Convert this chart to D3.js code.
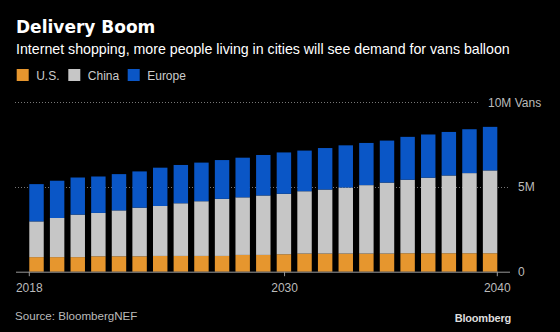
<!DOCTYPE html>
<html>
<head>
<meta charset="utf-8">
<script src="https://cdn.jsdelivr.net/npm/d3@7"></script>
<style>
  body { margin: 0; background: #000; }
  svg { display: block; }
</style>
</head>
<body>
<script>
// values, millions of vans
var years = d3.range(2018, 2041);
var us = [0.86, 0.86, 0.86, 0.91, 0.91, 0.91, 0.93, 0.93, 0.93, 0.93, 0.99, 0.99,
          1.03, 1.07, 1.07, 1.07, 1.07, 1.07, 1.09, 1.09, 1.09, 1.09, 1.09];
var china = [2.11, 2.31, 2.51, 2.56, 2.71, 2.87, 2.95, 3.11, 3.23, 3.37, 3.40, 3.51,
             3.57, 3.68, 3.78, 3.90, 4.04, 4.19, 4.34, 4.46, 4.59, 4.73, 4.89];
var europe = [2.20, 2.20, 2.19, 2.15, 2.14, 2.14, 2.26, 2.26, 2.28, 2.29, 2.34, 2.39,
              2.44, 2.40, 2.45, 2.49, 2.49, 2.48, 2.53, 2.55, 2.57, 2.59, 2.57];
var seriesNames = ['U.S.', 'China', 'Europe'];
var colors = ['#e6962e', '#c6c6c6', '#0a56c6'];
var xTicks = [2018, 2030, 2040];
var yTicks = [0, 5, 10];
var yTickLabels = ['0', '5M', '10M Vans'];

var rows = years.map(function(y, i) {
    return { year: y, 'U.S.': us[i], 'China': china[i], 'Europe': europe[i] };
});
var stacked = d3.stack().keys(seriesNames)(rows);

var svg = d3.select('body').append('svg')
    .attr('width', 560)
    .attr('height', 332);

svg.append('rect')
    .attr('width', 560)
    .attr('height', 332)
    .attr('fill', '#000');

var x = d3.scaleBand()
    .domain(years)
    .range([29.3, 497.3])
    .paddingInner(0.3)
    .paddingOuter(0);

var xt = d3.scaleLinear()
    .domain([2018, 2040])
    .range([29.3, 497.3]);

var y = d3.scaleLinear()
    .domain([0, 10])
    .range([271.7, 102.3]);

// titles
svg.append('text')
    .attr('x', 16)
    .attr('y', 33)
    .attr('fill', '#fff')
    .style('font-family', 'DejaVu Sans')
    .style('font-weight', 'bold')
    .style('font-size', '17px')
    .text('Delivery Boom');

svg.append('text')
    .attr('x', 16)
    .attr('y', 54.3)
    .attr('fill', '#fff')
    .style('font-family', 'Liberation Sans')
    .style('font-size', '14.2px')
    .text('Internet shopping, more people living in cities will see demand for vans balloon');

// legend
var legendX = [16.7, 68.3, 127.7];
var legend = svg.selectAll('.legend')
    .data(seriesNames)
    .enter().append('g')
    .attr('class', 'legend')
    .attr('transform', function(d, i) { return 'translate(' + legendX[i] + ',69)'; });

legend.append('rect')
    .attr('width', 12)
    .attr('height', 12)
    .attr('fill', function(d, i) { return colors[i]; });

legend.append('text')
    .attr('x', 19.5)
    .attr('y', 10.5)
    .attr('fill', '#ccc')
    .style('font-family', 'Liberation Sans')
    .style('font-size', '12px')
    .text(function(d) { return d; });

// gridlines
var gridEnd = [510, 510, 478];
svg.selectAll('.grid')
    .data(yTicks.slice(1))
    .enter().append('line')
    .attr('class', 'grid')
    .attr('x1', 15)
    .attr('x2', function(d, i) { return gridEnd[i + 1]; })
    .attr('y1', function(d) { return Math.round(y(d)) + 0.5; })
    .attr('y2', function(d) { return Math.round(y(d)) + 0.5; })
    .attr('stroke', '#777')
    .attr('stroke-dasharray', '1,2');

// bars
svg.selectAll('.series')
    .data(stacked)
    .enter().append('g')
    .attr('class', 'series')
    .attr('fill', function(d, i) { return colors[i]; })
    .selectAll('rect')
    .data(function(d) { return d; })
    .enter().append('rect')
    .attr('x', function(d) { return x(d.data.year); })
    .attr('width', x.bandwidth())
    .attr('y', function(d) { return y(d[1]); })
    .attr('height', function(d) { return y(d[0]) - y(d[1]); });

// baseline
svg.append('line')
    .attr('x1', 16)
    .attr('x2', 510)
    .attr('y1', y(0) + 0.5)
    .attr('y2', y(0) + 0.5)
    .attr('stroke', '#999');

// x ticks
svg.selectAll('.xtick')
    .data(xTicks)
    .enter().append('line')
    .attr('class', 'xtick')
    .attr('x1', function(d) { return xt(d); })
    .attr('x2', function(d) { return xt(d); })
    .attr('y1', y(0))
    .attr('y2', y(0) + 4.5)
    .attr('stroke', '#999');

svg.selectAll('.xlabel')
    .data(xTicks)
    .enter().append('text')
    .attr('class', 'xlabel')
    .attr('x', function(d) { return xt(d); })
    .attr('y', 291.5)
    .attr('text-anchor', 'middle')
    .attr('fill', '#bbb')
    .style('font-family', 'Liberation Sans')
    .style('font-size', '12px')
    .text(function(d) { return d; });

// y labels on the right
var yLabelX = [518, 518, 488];
svg.selectAll('.ylabel')
    .data(yTicks)
    .enter().append('text')
    .attr('class', 'ylabel')
    .attr('x', function(d, i) { return yLabelX[i]; })
    .attr('y', function(d) { return y(d) + 4.3; })
    .attr('fill', '#bbb')
    .style('font-family', 'Liberation Sans')
    .style('font-size', '12px')
    .text(function(d, i) { return yTickLabels[i]; });

// footer
svg.append('text')
    .attr('x', 15)
    .attr('y', 320)
    .attr('fill', '#bbb')
    .style('font-family', 'Liberation Sans')
    .style('font-size', '11.6px')
    .text('Source: BloombergNEF');

svg.append('text')
    .attr('x', 511)
    .attr('y', 322)
    .attr('text-anchor', 'end')
    .attr('fill', '#ddd')
    .style('font-family', 'Liberation Sans')
    .style('font-weight', 'bold')
    .style('font-size', '11px')
    .style('letter-spacing', '-0.2px')
    .text('Bloomberg');
</script>
</body>
</html>
